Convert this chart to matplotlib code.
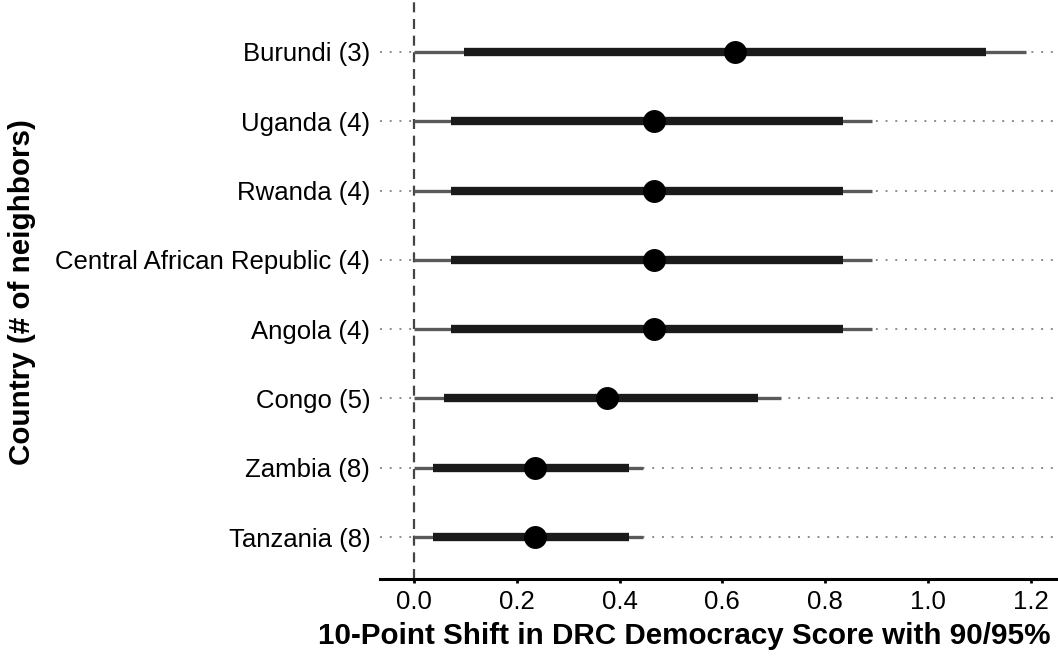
import numpy as np
import matplotlib
matplotlib.use('Agg')
import matplotlib.pyplot as plt

# Estimates per neighbouring country, bottom row first
countries = ['Tanzania (8)', 'Zambia (8)', 'Congo (5)', 'Angola (4)',
             'Central African Republic (4)', 'Rwanda (4)', 'Uganda (4)', 'Burundi (3)']
estimate = [0.235, 0.235, 0.375, 0.468, 0.468, 0.468, 0.468, 0.624]
lo90 = [0.038, 0.038, 0.058, 0.073, 0.073, 0.073, 0.073, 0.097]
hi90 = [0.418, 0.418, 0.669, 0.835, 0.835, 0.835, 0.835, 1.113]
lo95 = [0.0, 0.0, 0.0, 0.0, 0.0, 0.0, 0.0, 0.0]
hi95 = [0.446, 0.446, 0.715, 0.892, 0.892, 0.892, 0.892, 1.190]
xticks = [0.0, 0.2, 0.4, 0.6, 0.8, 1.0, 1.2]

plt.rcParams['font.family'] = ['Liberation Sans', 'DejaVu Sans']

fig = plt.figure(figsize=(10.58, 6.61), dpi=100)
ax = fig.add_axes([380 / 1058, 1 - 579 / 661, 678 / 1058, 579 / 661])

y = np.arange(1, len(countries) + 1)

# dotted guide for every row
for yy in y:
    ax.axhline(yy, color='#8c8c8c', lw=1.4, ls=(0, (1, 4)), zorder=0)

ax.axvline(0, color='#444444', lw=1.6, ls=(0, (4.5, 3)), zorder=1)

ax.hlines(y, lo95, hi95, color='#5a5a5a', lw=2.4, zorder=2)
ax.hlines(y, lo90, hi90, color='#1a1a1a', lw=6, zorder=3)
ax.plot(estimate, y, 'o', color='black', ms=15.5, zorder=4)

ax.set_xlim(-0.066, 1.253)
ax.set_ylim(0.394, 8.75)
ax.set_yticks(y)
ax.set_yticklabels(countries, fontsize=18.5)
ax.set_xticks(xticks)
ax.set_xticklabels([f'{t:.1f}' for t in xticks], fontsize=18.5)
ax.tick_params(axis='y', length=0, pad=7)
ax.tick_params(axis='x', length=3, width=2, pad=5)

for s in ['top', 'right', 'left']:
    ax.spines[s].set_visible(False)
ax.spines['bottom'].set_linewidth(2.2)

fig.text(318 / 1058, 1 - 636 / 661, '10-Point Shift in DRC Democracy Score with 90/95%',
         fontsize=21.3, fontweight='bold', ha='left', va='center')
fig.text(22 / 1058, 1 - 292 / 661, 'Country (# of neighbors)',
         fontsize=21.3, fontweight='bold', rotation=90, ha='center', va='center')

fig.savefig('out.png', dpi=100)
